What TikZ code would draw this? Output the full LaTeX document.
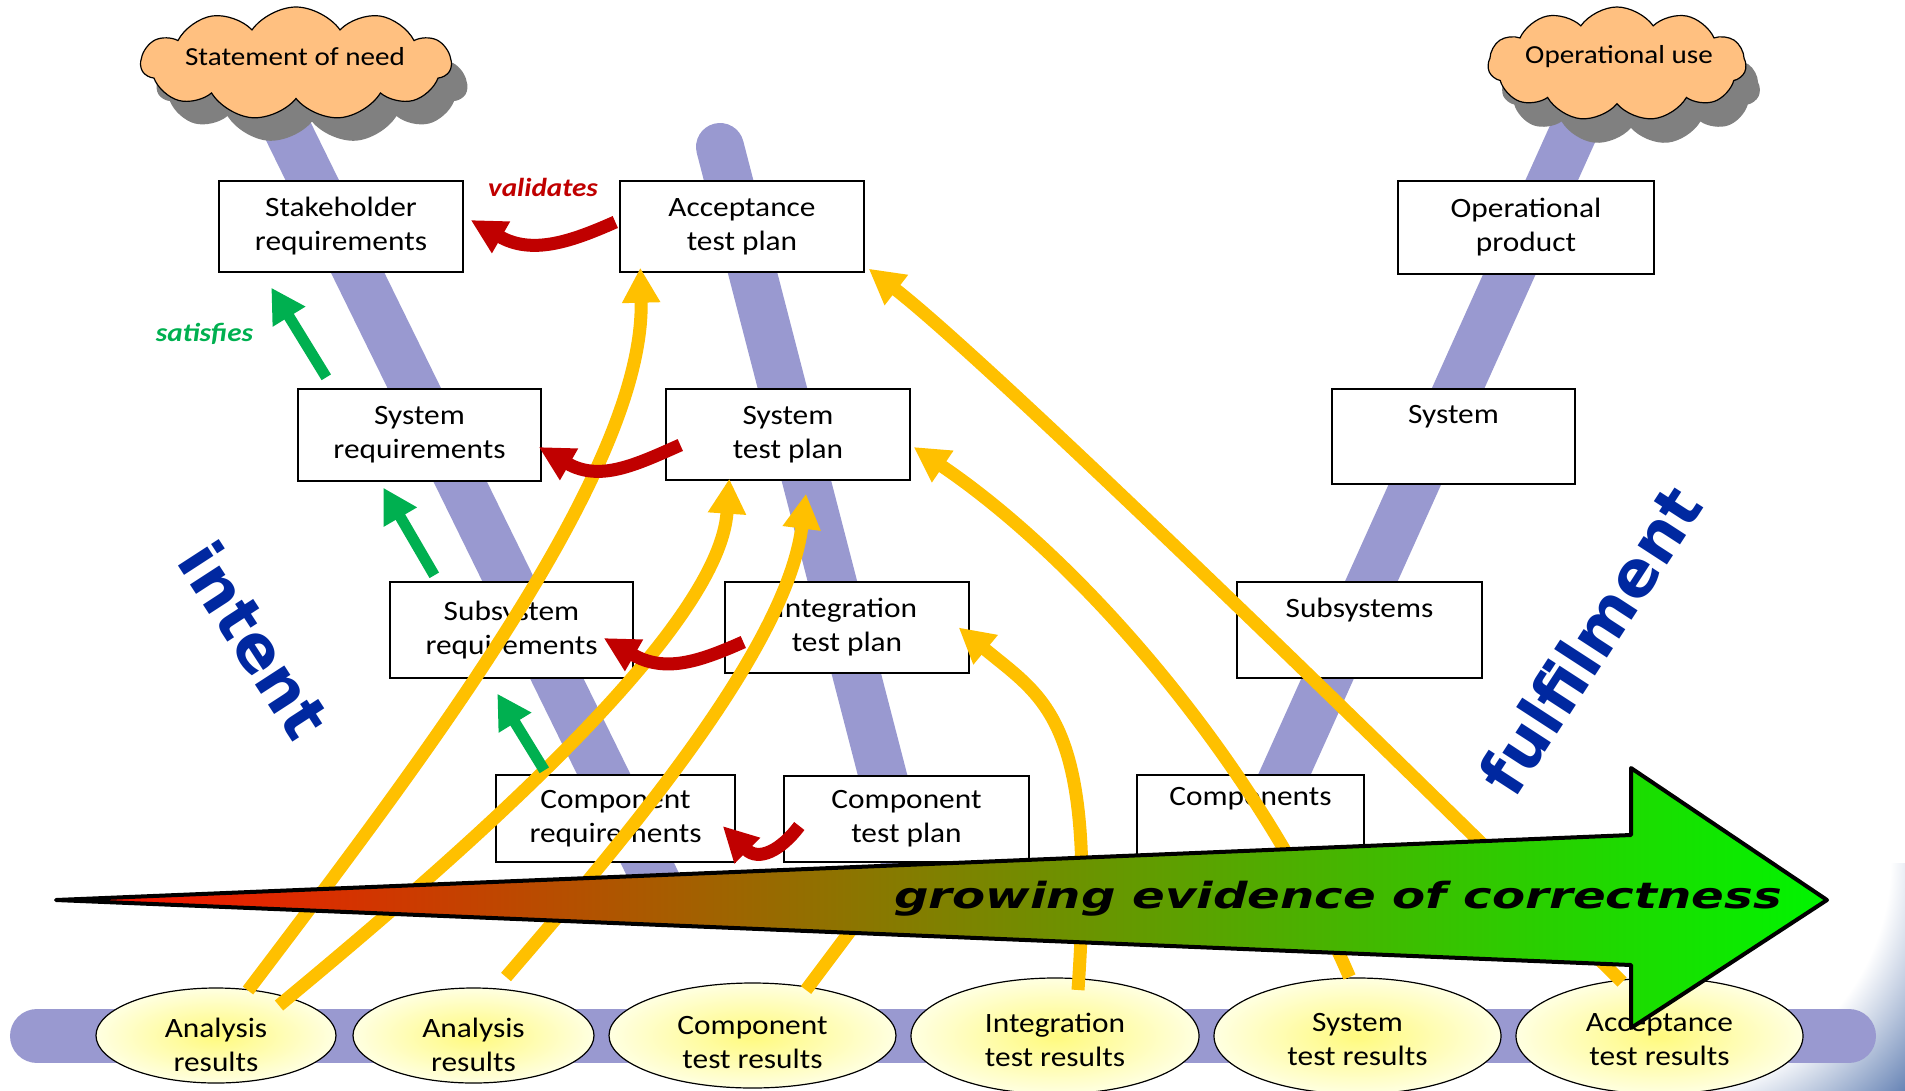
\documentclass[tikz,border=0pt]{standalone}
\usepackage{fontspec}
\setmainfont{Carlito}[FakeStretch=1.12]
\newfontfamily\sidefamily{DejaVu Sans Bold}
\newfontfamily\evfamily{DejaVu Sans Bold Oblique}
\usetikzlibrary{shapes.symbols,shapes.geometric,arrows.meta,calc}

\definecolor{bandcol}{RGB}{153,153,208}
\definecolor{valred}{RGB}{192,0,0}
\definecolor{satgreen}{RGB}{0,176,80}
\definecolor{evyellow}{RGB}{255,192,0}
\definecolor{lblblue}{RGB}{0,40,160}
\definecolor{cloudfill}{RGB}{255,192,128}
\definecolor{cloudshadow}{RGB}{128,128,128}
\definecolor{steel}{RGB}{70,105,165}
\definecolor{ovalin}{RGB}{255,250,125}
\definecolor{ovalout}{RGB}{255,255,225}
\definecolor{evred}{RGB}{255,12,0}
\definecolor{evgreen}{RGB}{0,245,0}

\pgfdeclareradialshading{cornerglow}{\pgfpoint{0bp}{0bp}}{color(0bp)=(white); color(16bp)=(white); color(25bp)=(steel); color(50bp)=(steel)}

\newcommand\boxtext{\fontsize{28bp}{34bp}\selectfont}
\newcommand\cloudtext{\fontsize{26bp}{30bp}\selectfont}
\newcommand\tagtext{\fontsize{26bp}{30bp}\selectfont\bfseries\itshape}

\begin{document}
\begin{tikzpicture}[x=1bp, y=-1bp,
  bandline/.style={draw=bandcol, line width=48bp},
  cloudshape/.style={cloud, cloud puffs=11, cloud puff arc=110, cloud ignores aspect, inner sep=0pt},
  plainbox/.style={rectangle, draw=black, line width=1.4bp, fill=white, inner sep=0pt, align=center, font=\boxtext},
  oval/.style={ellipse, draw=black, line width=1.2bp, inner color=ovalin, outer color=ovalout, inner sep=0pt},
  ovaltext/.style={align=center, font=\boxtext, inner sep=0pt},
  yellowarrow/.style={draw=evyellow, line width=13bp, -{Triangle[length=35bp,width=36bp]}},
  redarrow/.style={draw=valred, line width=13bp, -{Triangle[length=35bp,width=34bp]}},
  greenarrow/.style={draw=satgreen, line width=11bp, -{Triangle[length=34bp,width=36bp]}},
  sidelabel/.style={text=lblblue, font=\fontsize{64bp}{70bp}\sidefamily, inner sep=0pt},
  taglabel/.style={font=\tagtext, inner sep=0pt}
]
\useasboundingbox (0,0) rectangle (1905,1090);

% soft blue glow in the lower right corner
\begin{scope}
  \clip (1700,863) rectangle (1905,1090);
  \shade[shading=cornerglow] (1660,860) circle[radius=360];
\end{scope}

% the three diagonal spines and the bottom bar
\draw[bandline] (268,90) -- (663,895);
\draw[bandline, line cap=round] (720,147) -- (911,885);
\draw[bandline] (1590,95) -- (1237,880);
\draw[draw=bandcol, line width=54bp, line cap=round] (37,1036) -- (1849,1036);

% clouds with their shadows
\node[cloudshape, fill=cloudshadow, minimum width=310bp, minimum height=113bp] (needshadow) at (312,86.5) {};
\node[cloudshape, fill=cloudfill, draw=black, line width=1.2bp, minimum width=310bp, minimum height=113bp] (need) at (296,63.5) {};
\node[font=\cloudtext, inner sep=0pt] (needtext) at (295,57) {Statement of need};

\node[cloudshape, fill=cloudshadow, minimum width=258bp, minimum height=114bp] (useshadow) at (1631,88) {};
\node[cloudshape, fill=cloudfill, draw=black, line width=1.2bp, minimum width=258bp, minimum height=114bp] (use) at (1617,64) {};
\node[font=\cloudtext, inner sep=0pt] (usetext) at (1619,57) {Operational use};

% left stack: intent
\node[plainbox, minimum width=244bp, minimum height=91bp] (stake) at (341,226.5) {Stakeholder\\requirements};
\node[plainbox, minimum width=243bp, minimum height=92bp] (sysreq) at (419.5,435) {System\\requirements};
\node[plainbox, minimum width=243bp, minimum height=96bp] (subreq) at (511.5,630) {Subsystem\\requirements};
\node[plainbox, minimum width=239bp, minimum height=87bp] (compreq) at (615.5,818.5) {Component\\requirements};

% middle stack: test plans
\node[plainbox, minimum width=244bp, minimum height=91bp] (acctp) at (742,226.5) {Acceptance\\test plan};
\node[plainbox, minimum width=244bp, minimum height=91bp] (systp) at (788,434.5) {System\\test plan};
\node[plainbox, minimum width=244bp, minimum height=91bp] (inttp) at (847,627.5) {Integration\\test plan};
\node[plainbox, minimum width=245bp, minimum height=86bp] (comptp) at (906.5,819) {Component\\test plan};

% right stack: fulfilment
\node[plainbox, minimum width=256bp, minimum height=93bp] (opprod) at (1526,227.5) {Operational\\product};
\node[plainbox, minimum width=243bp, minimum height=95bp] (system) at (1453.5,436.5) {System\\\strut};
\node[plainbox, minimum width=245bp, minimum height=96bp] (subsys) at (1359.5,630) {Subsystems\\\strut};
\node[plainbox, minimum width=227bp, minimum height=87bp] (comps) at (1250.5,818.5) {Components\\\strut};

% results along the bottom bar
\node[oval, minimum width=240bp, minimum height=95bp] (an1) at (216,1035.5) {};
\node[oval, minimum width=241bp, minimum height=95bp] (an2) at (473.5,1035.5) {};
\node[oval, minimum width=287bp, minimum height=105bp] (ctr) at (752.5,1035.5) {};
\node[oval, minimum width=288bp, minimum height=116bp] (itr) at (1055,1036) {};
\node[oval, minimum width=287bp, minimum height=116bp] (str) at (1357.5,1036) {};
\node[oval, minimum width=287bp, minimum height=116bp] (atr) at (1659.5,1036) {};
\node[ovaltext] (an1text) at ([yshift=-9bp]an1.center) {Analysis\\results};
\node[ovaltext] (an2text) at ([yshift=-9bp]an2.center) {Analysis\\results};
\node[ovaltext] (ctrtext) at ([yshift=-7bp]ctr.center) {Component\\test results};
\node[ovaltext] (itrtext) at ([yshift=-4bp]itr.center) {Integration\\test results};
\node[ovaltext] (strtext) at ([yshift=-4bp]str.center) {System\\test results};
\node[ovaltext] (atrtext) at ([yshift=-4bp]atr.center) {Acceptance\\test results};

% evidence flowing up from the results
\draw[yellowarrow] ($(an1.center)+(32,-45)$) .. controls +(178,-235) and +(5,200) .. ($(acctp.south west)+(21,-5)$);
\draw[yellowarrow] ($(an1.center)+(63,-30)$) .. controls +(192,-159) and +(-10,150) .. ($(systp.south west)+(64,-2)$);
\draw[yellowarrow] ($(an2.center)+(32.5,-58.5)$) .. controls +(103,-120) and +(-20,160) .. ($(systp.south)+(18,13)$);
\draw[yellowarrow] ($(ctr.center)+(53.5,-45.5)$) -- ($(comptp.south)+(-18.5,18)$);
\draw[yellowarrow] ($(itr.center)+(23,-46)$) .. controls +(19,-270) and +(87,72) .. ($(inttp.east)+(-11,0)$);
\draw[yellowarrow] ($(str.center)+(-8,-59)$) .. controls +(-94,-217) and +(167,113) .. ($(systp.east)+(3,12.5)$);
\draw[yellowarrow] ($(atr.center)+(-37.5,-54)$) .. controls +(-122,-122) and +(132,102) .. ($(acctp.south east)+(4,-4)$);

% satisfies
\draw[greenarrow] ($(sysreq.north west)+(29,-11)$) -- ($(stake.south west)+(53,15)$);
\draw[greenarrow] ($(subreq.north west)+(45,-6)$) -- ($(sysreq.south west)+(86,6)$);
\draw[greenarrow] ($(compreq.north west)+(49,-4)$) -- ($(subreq.south west)+(108,15)$);
\node[taglabel, text=satgreen] (satlabel) at (204.5,334) {satisfies};

% validates
\draw[redarrow] ($(acctp.west)+(-4,-4.5)$) .. controls +(-45,20) and +(61,35) .. ($(stake.east)+(7,-6.5)$);
\draw[redarrow] ($(systp.west)+(15,10.5)$) .. controls +(-45,20) and +(61,35) .. ($(sysreq.east)+(-3,12)$);
\draw[redarrow] ($(inttp.west)+(19,14.5)$) .. controls +(-45,20) and +(61,35) .. ($(subreq.east)+(-30,8)$);
\draw[redarrow] ($(comptp.west)+(16,7)$) .. controls +(-18,24) and +(36,36) .. ($(compreq.east)+(-13,7.5)$);
\node[taglabel, text=valred] (vallabel) at (543,187) {validates};

% side labels
\node[sidelabel, rotate=-57] (intent) at (255,640) {intent};
\node[sidelabel, rotate=57] (fulfil) at (1590,640) {fulfilment};

% growing evidence arrow
\shadedraw[left color=evred, right color=evgreen, draw=black, line width=4bp, line join=round]
  (56,900) -- (1631,835) -- (1631,768) -- (1827,900) -- (1631,1028) -- (1631,965) -- cycle;
\node[inner sep=0pt] (evtext) at (1338,899)
  {\scalebox{1.34}[1]{\fontsize{36bp}{40bp}\evfamily growing evidence of correctness}};
\end{tikzpicture}
\end{document}
